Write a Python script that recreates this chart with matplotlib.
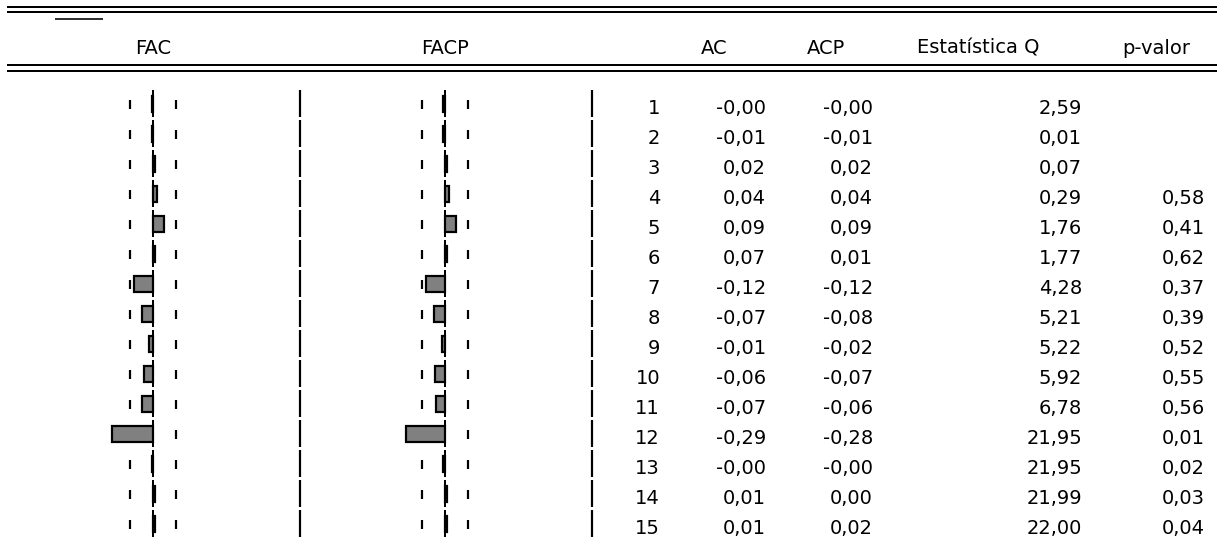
import matplotlib
matplotlib.use("Agg")
import matplotlib.pyplot as plt

# ---------------- data ----------------
lags = list(range(1, 16))
ac = [-0.00, -0.01, 0.02, 0.04, 0.09, 0.07, -0.12, -0.07, -0.01, -0.06, -0.07, -0.29, -0.00, 0.01, 0.01]
acp = [-0.00, -0.01, 0.02, 0.04, 0.09, 0.01, -0.12, -0.08, -0.02, -0.07, -0.06, -0.28, -0.00, 0.00, 0.02]
q_stat = [2.59, 0.01, 0.07, 0.29, 1.76, 1.77, 4.28, 5.21, 5.22, 5.92, 6.78, 21.95, 21.95, 21.99, 22.00]
p_value = [None, None, None, 0.58, 0.41, 0.62, 0.37, 0.39, 0.52, 0.55, 0.56, 0.01, 0.02, 0.03, 0.04]

# bar lengths as drawn in the correlogram
fac_bars = [-0.012, -0.012, 0.012, 0.025, 0.075, 0.012, -0.13, -0.077, -0.027, -0.061, -0.077, -0.283, -0.012, 0.012, 0.012]
facp_bars = [-0.012, -0.012, 0.012, 0.027, 0.077, 0.012, -0.127, -0.075, -0.02, -0.065, -0.059, -0.265, -0.012, 0.012, 0.012]
conf_band = 0.156

headers = ["FAC", "FACP", "AC", "ACP", "Estatística Q", "p-valor"]

# ---------------- layout ----------------
W, H = 1217, 543
DPI = 100
PX = 72.0 / DPI  # points per pixel
fig = plt.figure(figsize=(W / DPI, H / DPI), dpi=DPI)
fig.patch.set_facecolor("white")
plt.rcParams["font.family"] = ["DejaVu Sans"]

ax = fig.add_axes([0, 0, 1, 1])
ax.set_xlim(0, W)
ax.set_ylim(H, 0)
ax.axis("off")

ROW0, ROWH = 104, 30  # pixel y of first row center, row spacing


def row_y(k):
    return ROW0 + (k - 1) * ROWH


# top rules
ax.hlines([7.3, 12.3], 7, W, color="black", lw=2 * PX)
ax.hlines([65.3, 70.5], 7, W, color="black", lw=2 * PX)
ax.hlines([19], 55, 103, color="black", lw=1.6 * PX)

FS = 14
# headers
head_x = [153, 445, 714, 826, 978, 1156]
for hx, h in zip(head_x, headers):
    ax.text(hx, 53.5, h, ha="center", va="baseline", fontsize=FS, color="black")

# table numbers
def fmt(v):
    return f"{v:.2f}".replace(".", ",")

for i, k in enumerate(lags):
    yb = row_y(k) + 9.5
    ax.text(660, yb, str(k), ha="right", va="baseline", fontsize=FS)
    ax.text(766, yb, fmt(ac[i]), ha="right", va="baseline", fontsize=FS)
    ax.text(873, yb, fmt(acp[i]), ha="right", va="baseline", fontsize=FS)
    ax.text(1082, yb, fmt(q_stat[i]), ha="right", va="baseline", fontsize=FS)
    if p_value[i] is not None:
        ax.text(1205, yb, fmt(p_value[i]), ha="right", va="baseline", fontsize=FS)

# correlogram panels
SCALE = 147.0  # pixels per unit of correlation
XMIN, XMAX = -0.36, 1.1
y_top_px = row_y(1) - ROWH / 2
y_bot_px = row_y(15) + ROWH / 2


def panel(center_px, bars):
    left_px = center_px + XMIN * SCALE
    width_px = (XMAX - XMIN) * SCALE
    pax = fig.add_axes([left_px / W, 1 - y_bot_px / H, width_px / W, (y_bot_px - y_top_px) / H])
    pax.set_xlim(XMIN, XMAX)
    pax.set_ylim(15.5, 0.5)
    pax.axis("off")
    seg_lo = [k - 0.47 for k in lags]
    seg_hi = [k + 0.43 for k in lags]
    # center axis line (broken per row)
    pax.vlines([0.0] * len(lags), seg_lo, seg_hi, color="black", lw=2.0 * PX, zorder=2)
    # separator line
    pax.vlines([1.0] * len(lags), seg_lo, seg_hi, color="black", lw=2.2 * PX, zorder=2)
    # confidence band ticks
    for s in (-conf_band, conf_band):
        pax.vlines([s] * len(lags), [k - 0.15 for k in lags], [k + 0.15 for k in lags],
                   color="black", lw=2.2 * PX, zorder=1)
    pax.barh(lags, bars, height=0.55, color="#808080", edgecolor="black",
             linewidth=2.2 * PX, zorder=3)
    return pax


panel(153.3, fac_bars)
panel(445.0, facp_bars)

fig.savefig("out.png", dpi=DPI, facecolor="white")
